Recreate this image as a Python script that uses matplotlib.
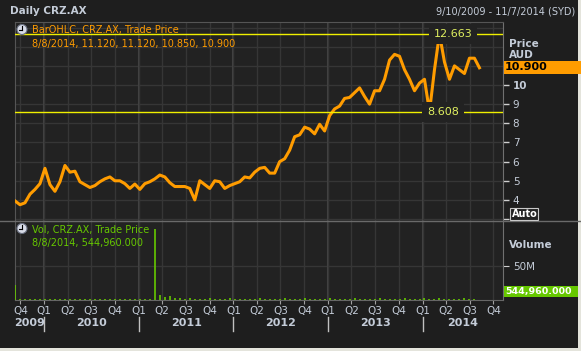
import pandas as pd
import matplotlib
matplotlib.use("Agg")
import matplotlib.pyplot as plt
import matplotlib.dates as mdates
from matplotlib.patches import Rectangle, Circle

W, H = 581, 351

# closing price (AUD) at even steps from 10 Sep 2009 to 8 Aug 2014
close = [3.95, 3.75, 3.85, 4.3, 4.55, 4.85, 5.65, 4.8, 4.45, 4.95,
         5.8, 5.45, 5.5, 4.95, 4.8, 4.65, 4.75, 4.95, 5.1, 5.2,
         5.0, 5.0, 4.85, 4.6, 4.83, 4.55, 4.85, 4.95, 5.1, 5.3,
         5.2, 4.9, 4.7, 4.7, 4.7, 4.6, 4.0, 5.0, 4.8, 4.6,
         5.0, 4.95, 4.6, 4.75, 4.85, 4.95, 5.2, 5.15, 5.45, 5.65,
         5.7, 5.4, 5.4, 6.0, 6.15, 6.6, 7.3, 7.4, 7.8, 7.7,
         7.45, 7.95, 7.6, 8.4, 8.75, 8.9, 9.3, 9.35, 9.6, 9.85,
         9.4, 9.0, 9.7, 9.7, 10.3, 11.3, 11.6, 11.5, 10.8, 10.3,
         9.7, 10.1, 10.3, 8.608, 10.8, 12.663, 11.2, 10.3, 11.0, 10.8,
         10.6, 11.4, 11.4, 10.9]

# volume in millions, same span
volume = [22, 1.5, 2, 1.5, 1, 2, 1.5, 1, 2, 1.5,
          1.5, 2, 1, 1.5, 2, 1, 1.5, 2, 1.5, 1,
          2, 1.5, 1, 1.5, 2, 1.5, 1, 1.5, 104, 8,
          4, 6, 3, 2.5, 2, 3, 2, 1.5, 2, 2.5,
          2, 1.5, 2, 3, 2, 1.5, 2, 2, 1.5, 2.5,
          2, 1.5, 2, 2, 2.5, 2, 1.5, 2, 3, 2,
          2, 1.5, 2, 2.5, 2, 1.5, 2, 2, 3, 2,
          1.5, 2, 2, 2.5, 2, 1.5, 2, 2, 3, 2,
          1.5, 2, 2.5, 2, 2, 3, 2, 1.5, 2, 2,
          2.5, 2, 1.5, 0.55]

price_ticks = [3, 4, 5, 6, 7, 8, 9, 10]
price_labels = ["", "4", "5", "6", "7", "8", "9", "10"]
years = [2009, 2010, 2011, 2012, 2013, 2014]
high_val = 12.663
low_val = 8.608
last_close = 10.900
bar_info = "8/8/2014, 11.120, 11.120, 10.850, 10.900"
vol_info = "8/8/2014, 544,960.000"
last_vol = "544,960.000"

start = pd.Timestamp("2009-09-10")
end = pd.Timestamp("2014-11-07")
dates = pd.date_range("2009-09-10", "2014-08-08", periods=len(close))
vdates = pd.date_range("2009-09-10", "2014-08-08", periods=len(volume))
quarters = pd.date_range("2009-10-01", "2014-10-01", freq="QS")
qlabels = ["Q%d" % ((d.month - 1) // 3 + 1) for d in quarters]

BG = "#1e1e1e"
PBG = "#222222"
GRID = "#363636"
TXT = "#c4ccd8"
ORANGE = "#ff9c00"
GREEN = "#66c800"
YEL = "#f0f000"

fig = plt.figure(figsize=(W / 100, H / 100), dpi=100, facecolor=BG)

L, R = 15, 503
ax_p = fig.add_axes([L / W, 1 - 221 / H, (R - L) / W, (221 - 22) / H], facecolor=PBG)
ax_v = fig.add_axes([L / W, 1 - 300 / H, (R - L) / W, (300 - 221) / H], facecolor=PBG)

# price panel
ax_p.plot(dates, close, color=ORANGE, lw=2.2, zorder=3)
ax_p.set_xlim(start, end)
ax_p.set_ylim(2.90, 13.29)
for v in range(3, 14):
    ax_p.axhline(v, color=GRID, lw=1, zorder=1)
ax_p.set_xticks(quarters)
ax_p.tick_params(axis="x", length=0, labelbottom=False)
ax_p.grid(axis="x", color=GRID, lw=1, zorder=1)
ax_p.yaxis.tick_right()
ax_p.set_yticks(price_ticks)
ax_p.set_yticklabels(price_labels)
ax_p.tick_params(axis="y", length=4, width=1, color="#d0d0d0", labelcolor=TXT,
                 labelsize=7.5, pad=3)
ax_p.get_yticklabels()[-1].set_fontweight("bold")

ax_p.axhline(high_val, color=YEL, lw=1, zorder=4)
ax_p.axhline(low_val, color=YEL, lw=1, zorder=4)
ax_p.text((453 - L) / (R - L), high_val, "%.3f" % high_val, color="#e0f060", fontsize=8,
          ha="center", va="center", transform=ax_p.get_yaxis_transform(), zorder=5,
          bbox=dict(boxstyle="square,pad=0.45", fc=PBG, ec="none"))
ax_p.text((443 - L) / (R - L), low_val, "%.3f" % low_val, color="#e0f060", fontsize=8,
          ha="center", va="center", transform=ax_p.get_yaxis_transform(), zorder=5,
          bbox=dict(boxstyle="square,pad=0.45", fc=PBG, ec="none"))

# volume panel
ax_v.vlines(vdates, 0, [v * 1e6 for v in volume], color=GREEN, lw=1.2, zorder=3)
ax_v.set_xlim(start, end)
ax_v.set_ylim(0, 116e6)
ax_v.axhline(50e6, color=GRID, lw=1, zorder=1)
ax_v.set_xticks(quarters)
ax_v.set_xticklabels(qlabels)
ax_v.grid(axis="x", color=GRID, lw=1, zorder=1)
ax_v.tick_params(axis="x", length=3, color="#a0a0a0", labelcolor=TXT, labelsize=7.5, pad=1)
ax_v.yaxis.tick_right()
ax_v.set_yticks([50e6])
ax_v.set_yticklabels(["50M"])
ax_v.tick_params(axis="y", length=4, color="#d0d0d0", labelcolor=TXT, labelsize=7.5, pad=3)

for ax in (ax_p, ax_v):
    for yr in years[1:]:
        ax.axvline(pd.Timestamp("%d-01-01" % yr), color="#444444", lw=1.5, zorder=1)
    for s in ax.spines.values():
        s.set_color("#555555")
    ax.spines["right"].set_color("#707070")
ax_p.spines["bottom"].set_visible(False)
ax_v.spines["top"].set_visible(False)
ax_v.spines["bottom"].set_color("#666666")

# overlay in pixel coordinates
ov = fig.add_axes([0, 0, 1, 1], facecolor="none")
ov.set_xlim(0, W)
ov.set_ylim(H, 0)
ov.axis("off")

ov.plot([0, W], [221, 221], color="#6a6a6a", lw=1)
ov.text(10, 11.5, "Daily CRZ.AX", color=TXT, fontsize=7.5, fontweight="bold", va="center")
ov.text(575, 12, "9/10/2009 - 11/7/2014 (SYD)", color=TXT, fontsize=7, ha="right", va="center")


def clock(x, y):
    ov.add_patch(Circle((x, y), 5, fc="#d8dce8", ec="#6a7080", lw=0.8, zorder=6))
    ov.plot([x, x], [y, y - 3.5], color="black", lw=0.8, zorder=7)
    ov.plot([x, x - 3], [y, y], color="black", lw=0.8, zorder=7)


clock(22, 29.5)
ov.text(32, 30, "BarOHLC, CRZ.AX, Trade Price", color=ORANGE, fontsize=7, va="center")
ov.text(32, 43.5, bar_info, color=ORANGE, fontsize=7, va="center")
clock(22, 228.5)
ov.text(32, 229.5, "Vol, CRZ.AX, Trade Price", color=GREEN, fontsize=7, va="center")
ov.text(32, 243, vol_info, color=GREEN, fontsize=7, va="center")

ov.text(509, 44, "Price", color=TXT, fontsize=7.5, fontweight="bold", va="center")
ov.text(509, 54.5, "AUD", color=TXT, fontsize=7.5, fontweight="bold", va="center")
ov.add_patch(Rectangle((504, 60.7), 77, 13.3, fc=ORANGE, ec="none", zorder=5))
ov.text(505, 67.5, "%.3f" % last_close, color="black", fontsize=8, fontweight="bold",
        va="center", zorder=6)
ov.add_patch(Rectangle((510, 208), 28, 12, fc=PBG, ec="#c8c8c8", lw=0.8, zorder=5))
ov.text(511.5, 214, "Auto", color="white", fontsize=7, fontweight="bold", va="center", zorder=6)

ov.text(509, 245, "Volume", color=TXT, fontsize=7.5, fontweight="bold", va="center")
ov.add_patch(Rectangle((504, 286), 74, 11, fc=GREEN, ec="none", zorder=5))
ov.text(505, 291.5, last_vol, color="white", fontsize=6.8, fontweight="bold", va="center", zorder=6)

# year row
x0, x1 = mdates.date2num(start), mdates.date2num(end)


def to_px(d):
    return L + (mdates.date2num(d) - x0) / (x1 - x0) * (R - L)


for yr in years:
    a = max(to_px(pd.Timestamp("%d-01-01" % yr)), L)
    b = min(to_px(pd.Timestamp("%d-01-01" % (yr + 1))), R)
    ov.text((a + b) / 2, 323.5, str(yr), color=TXT, fontsize=8, fontweight="bold",
            ha="center", va="center")
    if yr > years[0]:
        ov.plot([a, a], [317, 331], color="#c0c0c0", lw=1)

# window edges
ov.add_patch(Rectangle((578, 0), 3, H, fc="#e4e4dc", ec="none"))
ov.add_patch(Rectangle((0, 348), W, 3, fc="#e4e4dc", ec="none"))

fig.savefig("out.png", dpi=100, facecolor=BG)
